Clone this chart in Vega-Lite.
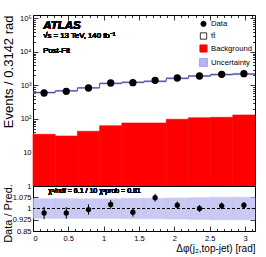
{
  "$schema": "https://vega.github.io/schema/vega-lite/v6.json",
  "padding": {"left": 1, "top": 13, "right": 5, "bottom": 2},
  "spacing": 0,
  "bounds": "flush",
  "config": {
    "font": "Liberation Sans",
    "view": {"stroke": "black", "strokeWidth": 1},
    "axis": {"domain": false, "grid": false, "tickColor": "black", "labelColor": "black", "titleColor": "black", "labelFont": "Liberation Sans", "titleFont": "Liberation Sans", "titleFontWeight": "normal", "labelFontSize": 7.5, "tickWidth": 0.8}
  },
  "datasets": {
    "bins": [
      {"lo": 0.0, "hi": 0.3142, "c": 0.1571, "data": 597, "bkg": 35, "tot": 615, "tlo": 575, "thi": 655, "r": 0.970, "rlo": 0.929, "rhi": 1.011, "blo": 0.935, "bhi": 1.065},
      {"lo": 0.3142, "hi": 0.6283, "c": 0.4712, "data": 671, "bkg": 31, "tot": 692, "tlo": 647, "thi": 737, "r": 0.970, "rlo": 0.931, "rhi": 1.009, "blo": 0.935, "bhi": 1.065},
      {"lo": 0.6283, "hi": 0.9425, "c": 0.7854, "data": 842, "bkg": 43, "tot": 848, "tlo": 793, "thi": 903, "r": 0.993, "rlo": 0.959, "rhi": 1.027, "blo": 0.935, "bhi": 1.065},
      {"lo": 0.9425, "hi": 1.2566, "c": 1.0996, "data": 1188, "bkg": 63, "tot": 1157, "tlo": 1082, "thi": 1232, "r": 1.027, "rlo": 0.998, "rhi": 1.056, "blo": 0.935, "bhi": 1.065},
      {"lo": 1.2566, "hi": 1.5708, "c": 1.4137, "data": 1213, "bkg": 76, "tot": 1244, "tlo": 1159, "thi": 1329, "r": 0.975, "rlo": 0.946, "rhi": 1.004, "blo": 0.932, "bhi": 1.068},
      {"lo": 1.5708, "hi": 1.885, "c": 1.7279, "data": 1430, "bkg": 76, "tot": 1334, "tlo": 1243, "thi": 1425, "r": 1.072, "rlo": 1.046, "rhi": 1.098, "blo": 0.932, "bhi": 1.068},
      {"lo": 1.885, "hi": 2.1991, "c": 2.042, "data": 1675, "bkg": 98, "tot": 1639, "tlo": 1524, "thi": 1754, "r": 1.022, "rlo": 0.998, "rhi": 1.046, "blo": 0.93, "bhi": 1.07},
      {"lo": 2.1991, "hi": 2.5133, "c": 2.3562, "data": 1922, "bkg": 109, "tot": 1922, "tlo": 1784, "thi": 2060, "r": 1.0, "rlo": 0.977, "rhi": 1.023, "blo": 0.928, "bhi": 1.072},
      {"lo": 2.5133, "hi": 2.8274, "c": 2.6704, "data": 2160, "bkg": 112, "tot": 2122, "tlo": 1963, "thi": 2281, "r": 1.018, "rlo": 0.996, "rhi": 1.04, "blo": 0.925, "bhi": 1.075},
      {"lo": 2.8274, "hi": 3.1416, "c": 2.9845, "data": 2250, "bkg": 132, "tot": 2202, "tlo": 2037, "thi": 2367, "r": 1.022, "rlo": 1.001, "rhi": 1.043, "blo": 0.925, "bhi": 1.075}
    ],
    "steps": [
      {"edge": 0.0, "tot": 615}, {"edge": 0.3142, "tot": 692}, {"edge": 0.6283, "tot": 848},
      {"edge": 0.9425, "tot": 1157}, {"edge": 1.2566, "tot": 1244}, {"edge": 1.5708, "tot": 1334},
      {"edge": 1.885, "tot": 1639}, {"edge": 2.1991, "tot": 1922}, {"edge": 2.5133, "tot": 2122},
      {"edge": 2.8274, "tot": 2202}, {"edge": 3.1416, "tot": 2202}
    ]
  },
  "resolve": {"legend": {"fill": "independent", "shape": "independent", "stroke": "independent", "size": "independent"}},
  "vconcat": [
    {
      "width": 222,
      "height": 171,
      "data": {"name": "bins"},
      "resolve": {"axis": {"x": "independent", "y": "independent"}},
      "layer": [
        {
          "mark": {"type": "rect", "fill": "#ff0000", "stroke": "#ff0000", "strokeWidth": 0.6},
          "encoding": {
            "x": {"field": "lo", "type": "quantitative", "scale": {"domain": [0, 3.1416], "nice": false, "zero": false},
                  "axis": {"orient": "bottom", "values": [0, 0.5, 1, 1.5, 2, 2.5, 3], "labels": false, "tickSize": -5, "title": null}},
            "x2": {"field": "hi"},
            "y": {"field": "bkg", "type": "quantitative", "scale": {"type": "log", "domain": [1, 127000], "nice": false},
                  "axis": {"orient": "left", "values": [1, 10, 100, 1000, 10000, 100000], "tickSize": -5, "labelPadding": 7, "labelFontSize": 7.5,
                           "labelExpr": "datum.value >= 99999 ? '10⁵' : datum.value >= 9999 ? '10⁴' : datum.value >= 999 ? '10³' : datum.value >= 99 ? '10²' : datum.value >= 9 ? '10' : '1'",
                           "title": "Events / 0.3142 rad", "titleFontSize": 13, "titleAngle": -90, "titleX": -30.5, "titleY": 0, "titleAlign": "right", "titleBaseline": "top"}},
            "y2": {"datum": 1}
          }
        },
        {
          "mark": {"type": "rect", "fill": "#9e9ee8", "opacity": 0.85},
          "encoding": {
            "x": {"field": "lo", "type": "quantitative",
                  "axis": {"orient": "bottom", "values": [0.1,0.2,0.3,0.4,0.6,0.7,0.8,0.9,1.1,1.2,1.3,1.4,1.6,1.7,1.8,1.9,2.1,2.2,2.3,2.4,2.6,2.7,2.8,2.9,3.1], "labels": false, "tickSize": -2.5, "title": null}},
            "x2": {"field": "hi"},
            "y": {"field": "tlo", "type": "quantitative",
                  "axis": {"orient": "left", "values": [2,3,4,5,6,7,8,9,20,30,40,50,60,70,80,90,200,300,400,500,600,700,800,900,2000,3000,4000,5000,6000,7000,8000,9000,20000,30000,40000,50000,60000,70000,80000,90000], "labels": false, "tickSize": -2.5, "title": null}},
            "y2": {"field": "thi"}
          }
        },
        {
          "data": {"name": "steps"},
          "mark": {"type": "line", "interpolate": "step-after", "color": "#4a4a9a", "strokeWidth": 1},
          "encoding": {
            "x": {"field": "edge", "type": "quantitative",
                  "axis": {"orient": "top", "values": [0, 0.5, 1, 1.5, 2, 2.5, 3], "labels": false, "tickSize": -5, "title": null}},
            "y": {"field": "tot", "type": "quantitative",
                  "axis": {"orient": "right", "values": [1, 10, 100, 1000, 10000, 100000], "labels": false, "tickSize": -5, "title": null}}
          }
        },
        {
          "mark": {"type": "point", "filled": true, "opacity": 1},
          "encoding": {
            "x": {"field": "c", "type": "quantitative",
                  "axis": {"orient": "top", "values": [0.1,0.2,0.3,0.4,0.6,0.7,0.8,0.9,1.1,1.2,1.3,1.4,1.6,1.7,1.8,1.9,2.1,2.2,2.3,2.4,2.6,2.7,2.8,2.9,3.1], "labels": false, "tickSize": -2.5, "title": null}},
            "y": {"field": "data", "type": "quantitative",
                  "axis": {"orient": "right", "values": [2,3,4,5,6,7,8,9,20,30,40,50,60,70,80,90,200,300,400,500,600,700,800,900,2000,3000,4000,5000,6000,7000,8000,9000,20000,30000,40000,50000,60000,70000,80000,90000], "labels": false, "tickSize": -2.5, "title": null}},
            "fill": {"datum": "Data", "scale": {"domain": ["Data", "tt̄", "Background", "Uncertainty"], "range": ["#000000", "#ffffff", "#ff0000", "#b4b4f0"]},
                     "legend": {"orient": "none", "legendX": 166, "legendY": 5, "padding": 0, "title": null, "labelFontSize": 7.7, "labelFont": "Liberation Sans", "labelColor": "black", "rowPadding": 2, "labelOffset": 3, "symbolStrokeWidth": 0.8}},
            "shape": {"datum": "Data", "scale": {"domain": ["Data", "tt̄", "Background", "Uncertainty"], "range": ["circle", "square", "square", "square"]}},
            "stroke": {"datum": "Data", "scale": {"domain": ["Data", "tt̄", "Background", "Uncertainty"], "range": ["#000000", "#000000", "#ff0000", "#9a9ae6"]}},
            "size": {"datum": "Data", "scale": {"domain": ["Data", "tt̄", "Background", "Uncertainty"], "range": [28, 64, 64, 64]}}
          }
        },
        {
          "mark": {"type": "text", "text": "ATLAS", "fontWeight": "bold", "fontStyle": "italic", "fontSize": 11.5, "align": "left", "baseline": "middle", "color": "black"},
          "encoding": {"x": {"datum": 0.144, "type": "quantitative", "axis": null}, "y": {"datum": 59700, "type": "quantitative", "axis": null}}
        },
        {
          "mark": {"type": "text", "text": "√s = 13 TeV, 140 fb⁻¹", "fontSize": 7.8, "align": "left", "baseline": "middle", "color": "black"},
          "encoding": {"x": {"datum": 0.144, "type": "quantitative", "axis": null}, "y": {"datum": 29000, "type": "quantitative", "axis": null}}
        },
        {
          "mark": {"type": "text", "text": "Post-Fit", "fontSize": 7.8, "align": "left", "baseline": "middle", "color": "black"},
          "encoding": {"x": {"datum": 0.144, "type": "quantitative", "axis": null}, "y": {"datum": 10700, "type": "quantitative", "axis": null}}
        }
      ]
    },
    {
      "width": 222,
      "height": 45,
      "data": {"name": "bins"},
      "resolve": {"axis": {"x": "independent", "y": "independent"}},
      "layer": [
        {
          "mark": {"type": "rect", "fill": "#bcbcf2", "stroke": "#bcbcf2", "strokeWidth": 0.6, "opacity": 0.8},
          "encoding": {
            "x": {"field": "lo", "type": "quantitative", "scale": {"domain": [0, 3.1416], "nice": false, "zero": false},
                  "axis": {"orient": "bottom", "values": [0, 0.5, 1, 1.5, 2, 2.5, 3], "tickSize": -5, "labelPadding": 8.5, "labelFontSize": 7.5, "labelExpr": "datum.value + ''",
                           "title": "Δφ(j₂,top-jet) [rad]", "titleFontSize": 10, "titleAnchor": "end", "titleAlign": "right", "titleX": 222, "titleY": 12.5, "titleBaseline": "top"}},
            "x2": {"field": "hi"},
            "y": {"field": "blo", "type": "quantitative", "scale": {"domain": [0.85, 1.15], "nice": false, "zero": false},
                  "axis": {"orient": "left", "values": [0.85, 0.925, 1, 1.075], "tickSize": -5, "labelPadding": 7, "labelFontSize": 7.5, "labelExpr": "datum.value + ''",
                           "title": "Data / Pred.", "titleFontSize": 11, "titleAngle": -90, "titleX": -30.5, "titleY": 27, "titleAlign": "center", "titleBaseline": "top"}},
            "y2": {"field": "bhi"}
          }
        },
        {
          "mark": {"type": "rule", "color": "black", "strokeDash": [3, 2], "strokeWidth": 1},
          "encoding": {"y": {"datum": 1, "type": "quantitative", "axis": null}}
        },
        {
          "mark": {"type": "rule", "color": "black", "strokeWidth": 1},
          "encoding": {
            "x": {"field": "c", "type": "quantitative",
                  "axis": {"orient": "bottom", "values": [0.1,0.2,0.3,0.4,0.6,0.7,0.8,0.9,1.1,1.2,1.3,1.4,1.6,1.7,1.8,1.9,2.1,2.2,2.3,2.4,2.6,2.7,2.8,2.9,3.1], "labels": false, "tickSize": -2.5, "title": null}},
            "y": {"field": "rlo", "type": "quantitative",
                  "axis": {"orient": "right", "values": [0.85, 0.925, 1, 1.075], "labels": false, "tickSize": -5, "title": null}},
            "y2": {"field": "rhi"}
          }
        },
        {
          "mark": {"type": "point", "filled": true, "color": "black", "size": 28, "opacity": 1},
          "encoding": {
            "x": {"field": "c", "type": "quantitative", "axis": null},
            "y": {"field": "r", "type": "quantitative", "axis": null}
          }
        },
        {
          "mark": {"type": "text", "text": "χ²/ndf = 6.1 / 10   χ²prob = 0.81", "fontSize": 7, "align": "left", "baseline": "middle", "color": "black"},
          "encoding": {
            "x": {"datum": 0.215, "type": "quantitative", "axis": null},
            "y": {"datum": 1.12, "type": "quantitative", "axis": null}
          }
        }
      ]
    }
  ]
}
